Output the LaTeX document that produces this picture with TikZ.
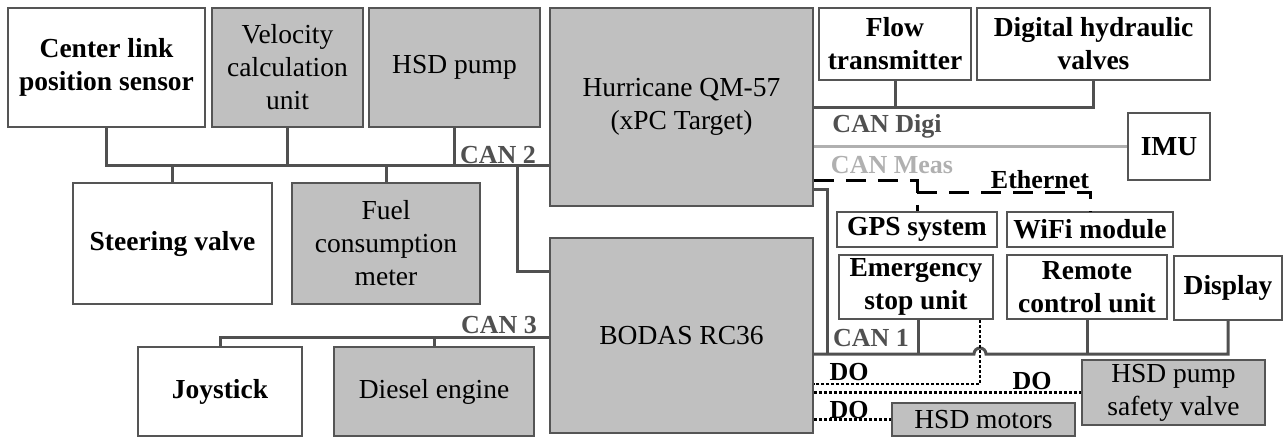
\documentclass[tikz,border=0pt]{standalone}
\usepackage{fontspec}
\setmainfont{Liberation Serif}
\definecolor{boxgray}{HTML}{C0C0C0}
\definecolor{edgegray}{HTML}{555555}
\definecolor{busgray}{HTML}{505050}
\definecolor{measgray}{HTML}{B0B0B0}
\tikzset{
  whitebox/.style={draw=edgegray,line width=1.5pt,fill=white,inner sep=0pt,align=center,
    font=\fontsize{27.5}{33}\selectfont\bfseries},
  graybox/.style={draw=edgegray,line width=1.5pt,fill=boxgray,inner sep=0pt,align=center,
    font=\fontsize{27.5}{33}\selectfont},
  canbus/.style={draw=busgray,line width=3pt},
  measbus/.style={draw=measgray,line width=2.5pt},
  ethbus/.style={draw=black,line width=3pt,dash pattern=on 20pt off 12pt},
  dobus/.style={draw=black,line width=2.5pt,dash pattern=on 3pt off 2pt},
  buslabel/.style={inner sep=0pt,font=\fontsize{26}{30}\selectfont\bfseries}
}
\begin{document}
\begin{tikzpicture}[x=1pt,y=-1pt]
\useasboundingbox (0,0) rectangle (1284,437);
% left side
\node[whitebox,minimum width=197,minimum height=119] (cl) at (106.5,67.5) {Center link\\position sensor};
\node[graybox,minimum width=151,minimum height=119] (vel) at (287.5,67.5) {Velocity\\calculation\\unit};
\node[graybox,minimum width=171,minimum height=119] (pump) at (454.5,67.5) {HSD pump};
\node[whitebox,minimum width=199,minimum height=121] (sv) at (172.5,243.5) {Steering valve};
\node[graybox,minimum width=188,minimum height=121] (fuel) at (386,243.5) {Fuel\\consumption\\meter};
\node[whitebox,minimum width=164,minimum height=89] (joy) at (220,391.5) {Joystick};
\node[graybox,minimum width=200,minimum height=89] (diesel) at (434,391.5) {Diesel engine};
% controllers
\node[graybox,minimum width=263,minimum height=198] (hq) at (681.5,107) {Hurricane QM-57\\(xPC Target)};
\node[graybox,minimum width=263,minimum height=195] (bodas) at (681.5,335.5) {BODAS RC36};
% right side
\node[whitebox,minimum width=152,minimum height=72] (flow) at (895,44) {Flow\\transmitter};
\node[whitebox,minimum width=233,minimum height=72] (dhv) at (1093.5,44) {Digital hydraulic\\valves};
\node[whitebox,minimum width=82,minimum height=67] (imu) at (1169,146.5) {IMU};
\node[whitebox,minimum width=160,minimum height=35] (gps) at (917,229.5) {GPS system};
\node[whitebox,minimum width=166,minimum height=35] (wifi) at (1090,229.5) {WiFi module};
\node[whitebox,minimum width=154,minimum height=64] (estop) at (916,287) {Emergency\\stop unit};
\node[whitebox,minimum width=160,minimum height=64] (rcu) at (1087,287) {Remote\\control unit};
\node[whitebox,minimum width=108,minimum height=64] (disp) at (1228,288) {Display};
\node[graybox,minimum width=183,minimum height=65] (psv) at (1173.5,392.5) {HSD pump\\safety valve};
\node[graybox,minimum width=183,minimum height=33] (mot) at (983.5,419.5) {HSD motors};

% CAN 2
\coordinate (j2) at (517,165);
\draw[canbus] (cl.south) |- (hq.west |- j2);
\draw[canbus] (vel.south) -- (vel.south |- j2);
\draw[canbus] (pump.south) -- (pump.south |- j2);
\draw[canbus] (sv.north) -- (sv.north |- j2);
\draw[canbus] (fuel.north) -- (fuel.north |- j2);
\draw[canbus] (j2) |- (bodas.west |- 0,271);
\node[buslabel,text=busgray] (can2) at (498,155) {CAN 2};
% CAN 3
\draw[canbus] (joy.north) |- (bodas.west |- 0,337);
\draw[canbus] (diesel.north) -- (diesel.north |- 0,337);
\node[buslabel,text=busgray] (can3) at (499,325) {CAN 3};
% CAN Digi
\draw[canbus] (hq.east |- 0,107) -| (dhv.south);
\draw[canbus] (flow.south) -- (flow.south |- 0,107);
\node[buslabel,text=busgray] (digi) at (887,126) {CAN Digi};
% CAN Meas
\draw[measbus] (hq.east |- imu.west) -- (imu.west);
\node[buslabel,text=measgray] (meas) at (892,165) {CAN Meas};
% Ethernet
\draw[ethbus] (hq.east |- 0,180) -| (gps.north);
\draw[ethbus] (gps.north |- 0,192) -| (wifi.north);
\node[buslabel] (eth) at (1040,180) {Ethernet};
% CAN 1
\coordinate (j1) at (827,354);
\coordinate (hop) at (974,354);
\draw[canbus] (hq.east |- 0,189) -| (j1);
\draw[canbus] (bodas.east |- j1) -- (hop) arc[start angle=180,end angle=0,radius=6pt] -| (disp.south);
\draw[canbus] ([xshift=2pt]estop.south) -- ([xshift=2pt]estop.south |- j1);
\draw[canbus] (rcu.south) -- (rcu.south |- j1);
\node[buslabel,text=busgray] (can1) at (871,338) {CAN 1};
% digital outputs
\draw[dobus] ([xshift=64pt]estop.south) |- (bodas.east |- 0,384);
\draw[dobus] (bodas.east |- psv.west) -- (psv.west);
\draw[dobus] (bodas.east |- mot.west) -- (mot.west);
\node[buslabel] (do1) at (849,372) {DO};
\node[buslabel] (do2) at (1032,381) {DO};
\node[buslabel] (do3) at (849,410) {DO};
\end{tikzpicture}
\end{document}
